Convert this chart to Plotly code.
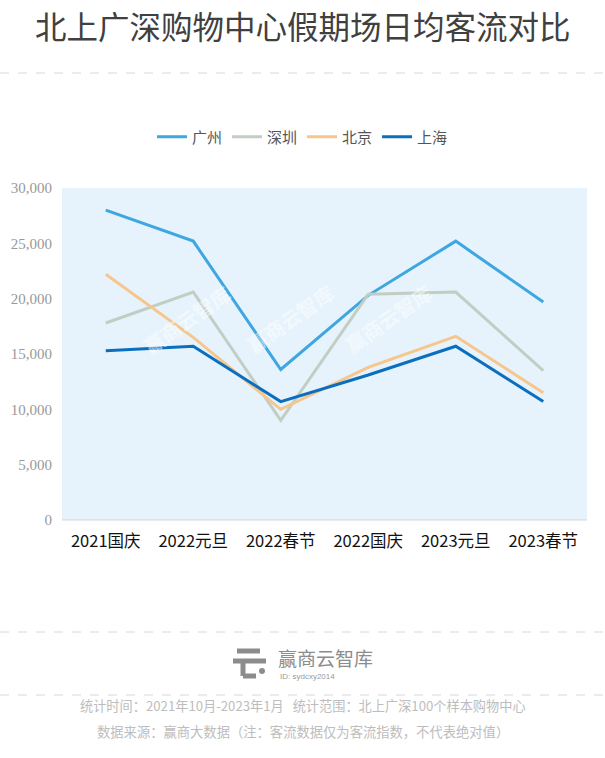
import plotly.graph_objects as go

categories = ["2021国庆", "2022元旦", "2022春节", "2022国庆", "2023元旦", "2023春节"]
guangzhou = [28000, 25200, 13600, 20300, 25200, 19700]
shenzhen = [17800, 20600, 9000, 20400, 20600, 13500]
beijing = [22200, 16500, 10000, 13800, 16600, 11500]
shanghai = [15300, 15700, 10700, 13100, 15700, 10700]
series_names = ["广州", "深圳", "北京", "上海"]
colors = ["#3ea6e0", "#c2cec3", "#f6c68c", "#0b6fbf"]
y_ticks = [0, 5000, 10000, 15000, 20000, 25000, 30000]

W, H = 605, 758
def py(p):
    return 1 - p / H
def px(p):
    return p / W

fig = go.Figure()
for name, vals, c in zip(series_names, [guangzhou, shenzhen, beijing, shanghai], colors):
    fig.add_trace(go.Scatter(x=categories, y=vals, name=name, mode="lines",
                             line=dict(color=c, width=3)))

font = "Noto Sans CJK SC"
fig.update_layout(
    width=W, height=H,
    margin=dict(l=0, r=0, t=0, b=0, autoexpand=False),
    paper_bgcolor="white",
    plot_bgcolor="#e6f3fc",
    font=dict(family=font),
    showlegend=True,
    legend=dict(orientation="h", x=0.5, xanchor="center", y=py(137), yanchor="middle",
                font=dict(size=15, color="#555"), tracegroupgap=0),
    xaxis=dict(domain=[px(62), px(587)], range=[-0.5, 5.5], showgrid=False, zeroline=False,
               showline=False, ticks="", tickfont=dict(size=16.5, color="#111", family=font),
               ticklabelstandoff=9, automargin=False, fixedrange=True),
    yaxis=dict(domain=[py(520), py(188)], range=[0, 30000], tickvals=y_ticks,
               tickformat=",d", showgrid=False, zeroline=False, showline=False,
               tickfont=dict(size=15, color="#999", family="Liberation Sans Narrow"),
               ticks="", ticklabelstandoff=9, automargin=False, fixedrange=True),
)

# bottom axis line
fig.add_shape(type="line", xref="paper", yref="paper", x0=px(62), x1=px(587),
              y0=py(520), y1=py(520), line=dict(color="#d3d7dc", width=1))

# title
fig.add_annotation(text="北上广深购物中心假期场日均客流对比", xref="paper", yref="paper",
                   x=0.5, y=py(25), xanchor="center", yanchor="middle", showarrow=False,
                   font=dict(size=31.5, color="#404040", family=font))

# dashed separators
for yy in [73, 632, 695]:
    fig.add_shape(type="line", xref="paper", yref="paper", x0=0, x1=1,
                  y0=py(yy), y1=py(yy), line=dict(color="#d8d8d8", width=1, dash="dash"))

# watermarks
for wx, wy in [(135, 320), (290, 318), (440, 318)]:
    fig.add_annotation(text="<b>赢商云智库</b>", xref="paper", yref="paper",
                       x=px(wx), y=py(wy), showarrow=False, textangle=-35,
                       font=dict(size=20, color="rgba(255,255,255,0.5)", family=font))

# logo icon
logo_c = "#8c8c8c"
fig.add_shape(type="line", xref="paper", yref="paper", x0=px(237), x1=px(260),
              y0=py(651), y1=py(651), line=dict(color=logo_c, width=5))
fig.add_shape(type="line", xref="paper", yref="paper", x0=px(233), x1=px(266),
              y0=py(661), y1=py(661), line=dict(color=logo_c, width=5))
fig.add_shape(type="line", xref="paper", yref="paper", x0=px(243), x1=px(243),
              y0=py(661), y1=py(676), line=dict(color=logo_c, width=5))
fig.add_shape(type="line", xref="paper", yref="paper", x0=px(243), x1=px(256),
              y0=py(676), y1=py(676), line=dict(color=logo_c, width=5))
fig.add_shape(type="circle", xref="paper", yref="paper", x0=px(259), x1=px(265),
              y0=py(674), y1=py(668), fillcolor=logo_c, line=dict(width=0))
fig.add_annotation(text="赢商云智库", xref="paper", yref="paper", x=px(276), y=py(657),
                   xanchor="left", yanchor="middle", showarrow=False,
                   font=dict(size=19, color="#8c8c8c", family=font))
fig.add_annotation(text="ID: sydcxy2014", xref="paper", yref="paper", x=px(278), y=py(676),
                   xanchor="left", yanchor="middle", showarrow=False,
                   font=dict(size=8, color="#999", family="Liberation Sans"))

# footer
fig.add_annotation(text="统计时间：2021年10月-2023年1月   统计范围：北上广深100个样本购物中心",
                   xref="paper", yref="paper", x=0.5, y=py(717), showarrow=False,
                   font=dict(size=13.2, color="#bdbdbd", family=font))
fig.add_annotation(text="数据来源：赢商大数据（注：客流数据仅为客流指数，不代表绝对值）",
                   xref="paper", yref="paper", x=0.5, y=py(743), showarrow=False,
                   font=dict(size=13.3, color="#bdbdbd", family=font))

fig.write_html("out.html", config={"displayModeBar": False},
               post_script="document.body.style.margin='0';")
